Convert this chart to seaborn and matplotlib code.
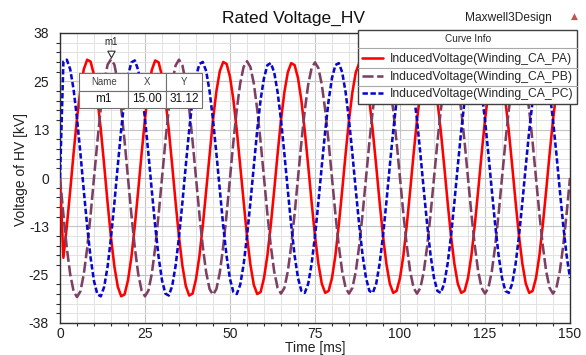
import matplotlib
matplotlib.use("Agg")
import matplotlib.pyplot as plt
import seaborn as sns
import numpy as np
from matplotlib.lines import Line2D
from matplotlib.ticker import AutoMinorLocator

time_ms = list(range(0, 151))

pa_kv = [
    0.0, -20.9, -12.7, -3.3, 6.5, 15.6, 23.2, 28.5, 31.0, 30.5, 27.0, 20.9, 12.7, 3.3, -6.5, -15.6, -23.2, -28.5, -31.0, -30.5,
    -26.8, -20.7, -12.6, -3.3, 6.4, 15.5, 23.0, 28.3, 30.8, 30.3, 26.8, 20.7, 12.6, 3.3, -6.4, -15.5, -23.0, -28.3, -30.8, -30.3,
    -26.5, -20.5, -12.5, -3.2, 6.4, 15.3, 22.7, 28.0, 30.4, 29.9, 26.5, 20.5, 12.5, 3.2, -6.4, -15.3, -22.7, -28.0, -30.4, -29.9,
    -26.2, -20.3, -12.3, -3.2, 6.3, 15.2, 22.5, 27.7, 30.1, 29.6, 26.2, 20.3, 12.3, 3.2, -6.3, -15.2, -22.5, -27.7, -30.1, -29.6,
    -26.2, -20.3, -12.3, -3.2, 6.3, 15.2, 22.5, 27.7, 30.1, 29.6, 26.2, 20.3, 12.3, 3.2, -6.3, -15.2, -22.5, -27.7, -30.1, -29.6,
    -26.2, -20.3, -12.3, -3.2, 6.3, 15.2, 22.5, 27.7, 30.1, 29.6, 26.2, 20.3, 12.3, 3.2, -6.3, -15.2, -22.5, -27.7, -30.1, -29.6,
    -26.2, -20.3, -12.3, -3.2, 6.3, 15.2, 22.5, 27.7, 30.1, 29.6, 26.2, 20.3, 12.3, 3.2, -6.3, -15.2, -22.5, -27.7, -30.1, -29.6,
    -26.2, -20.3, -12.3, -3.2, 6.3, 15.2, 22.5, 27.7, 30.1, 29.6, 26.2,
]

pb_kv = [
    0.0, -9.6, -18.3, -25.2, -29.7, -31.2, -29.7, -25.2, -18.3, -9.6, 0.0, 9.6, 18.3, 25.2, 29.7, 31.12, 29.7, 25.2, 18.3, 9.6,
    0.0, -9.6, -18.2, -25.1, -29.5, -31.0, -29.5, -25.1, -18.2, -9.6, 0.0, 9.6, 18.2, 25.1, 29.5, 31.0, 29.5, 25.1, 18.2, 9.6,
    0.0, -9.5, -18.0, -24.8, -29.1, -30.6, -29.1, -24.8, -18.0, -9.5, 0.0, 9.5, 18.0, 24.8, 29.1, 30.6, 29.1, 24.8, 18.0, 9.5,
    0.0, -9.4, -17.8, -24.5, -28.8, -30.3, -28.8, -24.5, -17.8, -9.4, 0.0, 9.4, 17.8, 24.5, 28.8, 30.3, 28.8, 24.5, 17.8, 9.4,
    0.0, -9.4, -17.8, -24.5, -28.8, -30.3, -28.8, -24.5, -17.8, -9.4, 0.0, 9.4, 17.8, 24.5, 28.8, 30.3, 28.8, 24.5, 17.8, 9.4,
    0.0, -9.4, -17.8, -24.5, -28.8, -30.3, -28.8, -24.5, -17.8, -9.4, 0.0, 9.4, 17.8, 24.5, 28.8, 30.3, 28.8, 24.5, 17.8, 9.4,
    0.0, -9.4, -17.8, -24.5, -28.8, -30.3, -28.8, -24.5, -17.8, -9.4, 0.0, 9.4, 17.8, 24.5, 28.8, 30.3, 28.8, 24.5, 17.8, 9.4,
    0.0, -9.4, -17.8, -24.5, -28.8, -30.3, -28.8, -24.5, -17.8, -9.4, 0.0,
]

pc_kv = [
    0.0, 30.5, 31.0, 28.5, 23.2, 15.6, 6.5, -3.3, -12.7, -20.9, -27.0, -30.5, -31.0, -28.5, -23.2, -15.6, -6.5, 3.3, 12.7, 20.9,
    26.8, 30.3, 30.8, 28.3, 23.0, 15.5, 6.4, -3.3, -12.6, -20.7, -26.8, -30.3, -30.8, -28.3, -23.0, -15.5, -6.4, 3.3, 12.6, 20.7,
    26.5, 29.9, 30.4, 28.0, 22.7, 15.3, 6.4, -3.2, -12.5, -20.5, -26.5, -29.9, -30.4, -28.0, -22.7, -15.3, -6.4, 3.2, 12.5, 20.5,
    26.2, 29.6, 30.1, 27.7, 22.5, 15.2, 6.3, -3.2, -12.3, -20.3, -26.2, -29.6, -30.1, -27.7, -22.5, -15.2, -6.3, 3.2, 12.3, 20.3,
    26.2, 29.6, 30.1, 27.7, 22.5, 15.2, 6.3, -3.2, -12.3, -20.3, -26.2, -29.6, -30.1, -27.7, -22.5, -15.2, -6.3, 3.2, 12.3, 20.3,
    26.2, 29.6, 30.1, 27.7, 22.5, 15.2, 6.3, -3.2, -12.3, -20.3, -26.2, -29.6, -30.1, -27.7, -22.5, -15.2, -6.3, 3.2, 12.3, 20.3,
    26.2, 29.6, 30.1, 27.7, 22.5, 15.2, 6.3, -3.2, -12.3, -20.3, -26.2, -29.6, -30.1, -27.7, -22.5, -15.2, -6.3, 3.2, 12.3, 20.3,
    26.2, 29.6, 30.1, 27.7, 22.5, 15.2, 6.3, -3.2, -12.3, -20.3, -26.2,
]

curve_names = [
    "InducedVoltage(Winding_CA_PA)",
    "InducedVoltage(Winding_CA_PB)",
    "InducedVoltage(Winding_CA_PC)",
]
y_tick_labels = ["-38", "-25", "-13", "0", "13", "25", "38"]
x_ticks = [0, 25, 50, 75, 100, 125, 150]

marker_name = "m1"
marker_time = 15.00
marker_value = pb_kv[time_ms.index(15)]

# styling
sns.set_theme(style="white")
plt.rcParams['font.family'] = ['Liberation Sans', 'DejaVu Sans']

fig = plt.figure(figsize=(5.86, 3.55), dpi=100)
ax = fig.add_axes([60 / 586, 1 - 323 / 355, 510 / 586, 290 / 355])

colors = ['#ff0000', '#7d3f63', '#0808cc']
styles = ['-', (0, (4.3, 1.4)), (0, (2.1, 1.0))]
for series, name, c, ls in zip([pa_kv, pb_kv, pc_kv], curve_names, colors, styles):
    sns.lineplot(x=time_ms, y=series, color=c, linestyle=ls, linewidth=1.85,
                 label=name, ax=ax, zorder=3)

ax.set_xlim(0, 150)
ax.set_ylim(-38, 38)
ax.set_xticks(x_ticks)
ax.set_yticks(np.linspace(-38, 38, len(y_tick_labels)))
ax.set_yticklabels(y_tick_labels)
ax.xaxis.set_minor_locator(AutoMinorLocator(5))
ax.yaxis.set_minor_locator(AutoMinorLocator(5))
ax.tick_params(axis='both', which='major', labelsize=10, colors='#303030', labelcolor='#202020', direction='out')
ax.tick_params(axis='y', which='major', length=6, width=0.9, pad=2)
ax.tick_params(axis='y', which='minor', length=3, width=0.8, left=True, color='#303030')
ax.tick_params(axis='x', which='major', length=3, width=0.9, pad=0)
ax.tick_params(axis='x', which='minor', length=1.8, width=0.8, bottom=True, color='#303030')

ax.grid(which='major', color='#c4c4c4', linewidth=0.8, zorder=0)
ax.grid(which='minor', color='#e2e2e2', linewidth=0.7, zorder=0)
ax.set_axisbelow(True)
for sp in ax.spines.values():
    sp.set_color('#303030')
    sp.set_linewidth(1.0)

ax.set_xlabel("Time [ms]", fontsize=10, color='#202020')
ax.xaxis.label.set_va('top')
ax.xaxis.set_label_coords(0.5, -(340.9 - 323) / 290)
ax.set_ylabel("Voltage of HV [kV]", fontsize=10, color='#202020')
ax.yaxis.label.set_va('center')
ax.yaxis.set_label_coords(-0.0765, 0.531)

fig.text(293 / 586, 1 - 18 / 355, "Rated Voltage_HV", ha='center', va='center',
         fontsize=12.5, color='#111111')
fig.text(508 / 586, 1 - 18.5 / 355, "Maxwell3Design", ha='center', va='center',
         fontsize=8.6, color='#222222')
fig.text(574 / 586, 1 - 16 / 355, "\u25b2", ha='center', va='center',
         fontsize=6.5, color='#c85050', family=['DejaVu Sans'])

# marker m1
tri = [(0, 0.25), (-0.55, 1.25), (0.55, 1.25), (0, 0.25)]
ax.plot([marker_time], [marker_value], marker=tri, markersize=12, mfc='white',
        mec='#303030', mew=0.8, ls='none', zorder=6, clip_on=False)
ax.annotate(marker_name, xy=(marker_time, marker_value), xytext=(0, 12.7),
            textcoords='offset points', ha='center', va='center', fontsize=7,
            color='#222222', zorder=6)

tbl = ax.table(cellText=[[marker_name, f"{marker_time:.2f}", f"{marker_value:.2f}"]],
               colLabels=["Name", "X", "Y"], cellLoc='center',
               colWidths=[0.398, 0.304, 0.298],
               bbox=[0.0378, 0.740, 0.241, 0.123])
tbl.auto_set_font_size(False)
tbl.set_zorder(7)
for (r, c), cell in tbl.get_celld().items():
    cell.set_edgecolor('#707070')
    cell.set_linewidth(0.8)
    cell.set_facecolor('white')
    if r == 0:
        cell.get_text().set_fontsize(7)
        cell.get_text().set_color('#404040')
    else:
        cell.get_text().set_fontsize(8.5)
        cell.get_text().set_color('#111111')

# curve info legend
handles, labels = ax.get_legend_handles_labels()
leg = ax.legend(handles, labels, title="Curve Info", title_fontsize=7.2, fontsize=8.7,
                loc='upper left', bbox_to_anchor=(358 / 586, 1 - 30 / 355),
                bbox_transform=fig.transFigure, borderaxespad=0, borderpad=0.3,
                labelspacing=0.45, handlelength=1.75, handletextpad=0.6,
                frameon=True, fancybox=False, framealpha=1, edgecolor='#404040')
leg._legend_box.sep = 7.0  # more room under the header row
leg.get_frame().set_linewidth(1.0)
leg.set_zorder(8)
for line in leg.get_lines():
    line.set_linewidth(1.85)

fig.canvas.draw()
r = fig.canvas.get_renderer()
fb = leg.get_frame().get_window_extent(r)
items = [leg.get_title()] + list(leg.get_texts())
boxes = [t.get_window_extent(r) for t in items]
W, H = fig.bbox.width, fig.bbox.height
for a, b in zip(boxes[:-1], boxes[1:]):
    ymid = (a.y0 + b.y1) / 2
    fig.add_artist(Line2D([fb.x0 / W, fb.x1 / W], [ymid / H, ymid / H],
                          color='#a8a8a8', linewidth=0.8, zorder=9))

fig.savefig("out.png", dpi=100)
